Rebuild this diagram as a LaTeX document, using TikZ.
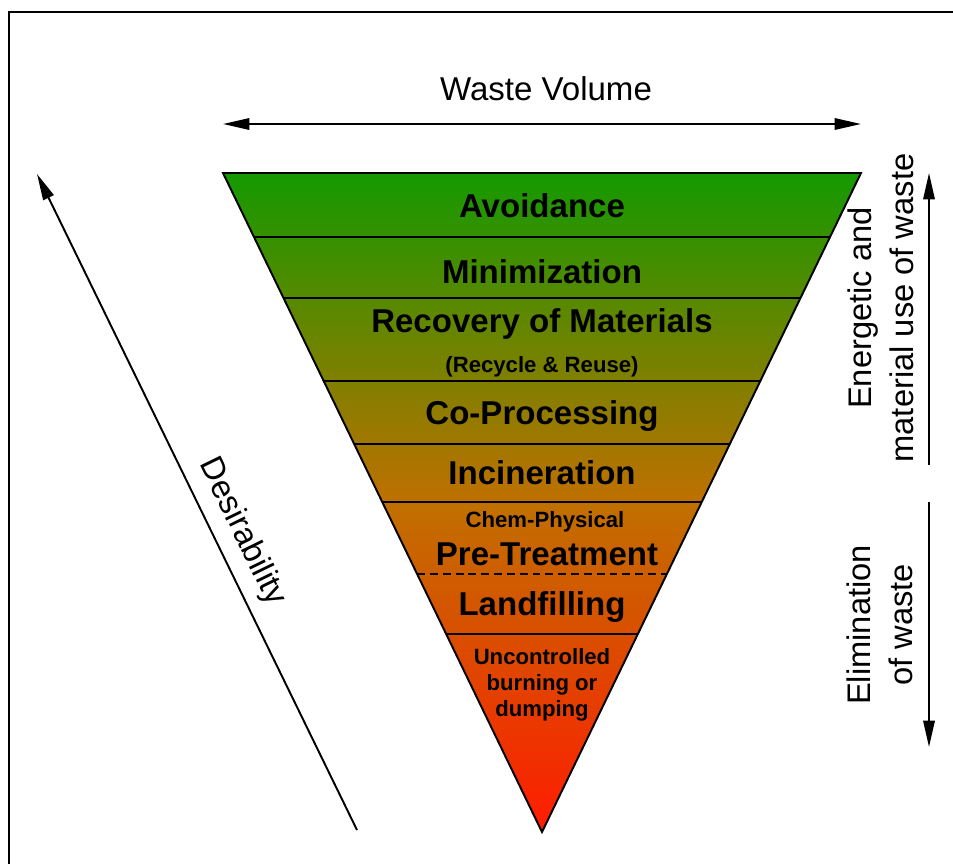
\documentclass[tikz,border=0pt]{standalone}
\usepackage{fontspec}
\setmainfont{Liberation Sans}
\usetikzlibrary{arrows.meta, calc, positioning}
\definecolor{topgreen}{RGB}{20,153,0}
\definecolor{midorange}{RGB}{192,112,0}
\definecolor{bottomred}{RGB}{255,28,0}
\tikzstyle{every picture} = [x=0.02cm, y=-0.02cm, line width=1.1pt]
\tikzstyle{level} = [anchor=base, inner sep=0pt, font=\fontsize{18.8}{22}\selectfont\bfseries]
\tikzstyle{small level} = [inner sep=0pt, align=center, font=\fontsize{12.6}{14.7}\selectfont\bfseries]
\tikzstyle{side label} = [inner sep=0pt, align=center, font=\fontsize{18.6}{23.8}\selectfont]
\tikzstyle{axis arrow} = [-{Triangle[length=15pt,width=6.5pt]}]

\begin{document}
\begin{tikzpicture}
            \useasboundingbox (0, 0) rectangle (953, 863);
            \draw (9, 12) rectangle (1000, 900);

            \coordinate (top left) at (223, 173);
            \coordinate (top right) at (861, 173);
            \coordinate (apex) at (542, 832);

            % funnel
            \shade[top color=topgreen, bottom color=bottomred, middle color=midorange]
                  (top left) -- (top right) -- (apex) -- cycle;
            \foreach \t in {0.0964, 0.1897, 0.3156, 0.4112, 0.4992, 0.6995}
                \draw ($(top left)!\t!(apex)$) -- ($(top right)!\t!(apex)$);
            \draw[dash pattern=on 4.5pt off 2.8pt] ($(top left)!0.6085!(apex)$) -- ($(top right)!0.6085!(apex)$);
            \draw[line join=miter] (top left) -- (top right) -- (apex) -- cycle;

            \node (avoidance) at (542, 217) [level] {Avoidance};
            \node (minimization) at (542, 283) [level] {Minimization};
            \node (recovery) at (542, 332) [level] {Recovery of Materials};
            \node (recycle) at (542, 372) [level, font=\fontsize{12.6}{13.3}\selectfont\bfseries] {(Recycle \& Reuse)};
            \node (coprocessing) at (542, 424) [level] {Co-Processing};
            \node (incineration) at (542, 484) [level] {Incineration};
            \node (chemphys) at (545, 527) [level, font=\fontsize{12.6}{13.3}\selectfont\bfseries] {Chem-Physical};
            \node (pretreatment) at (547, 565) [level] {Pre-Treatment};
            \node (landfilling) at (542, 615) [level] {Landfilling};
            \node (uncontrolled) at (542, 685) [small level] {Uncontrolled\\burning or\\dumping};

            % axes
            \coordinate (volume left) at (223, 124);
            \coordinate (volume right) at (861, 124);
            \draw[{Triangle[length=15pt,width=6.5pt]}-{Triangle[length=15pt,width=6.5pt]}] (volume left) -- (volume right);
            \node (volume) at (546, 100) [anchor=base, inner sep=0pt, font=\fontsize{18.8}{22}\selectfont] {Waste Volume};

            \coordinate (desire tail) at (357, 830);
            \coordinate (desire tip) at (37, 174);
            \draw[axis arrow] (desire tail) -- (desire tip);
            \node (desire) at (242, 532) [side label, rotate=-64] {Desirability};

            \coordinate (use low) at (929, 465);
            \coordinate (use high) at (929, 173);
            \draw[axis arrow] (use low) -- (use high);
            \node (use) at (881, 308) [side label, rotate=90] {Energetic and\\material use of waste};

            \coordinate (elim high) at (929, 502);
            \coordinate (elim low) at (929, 747);
            \draw[axis arrow] (elim high) -- (elim low);
            \node (elim) at (880, 625) [side label, rotate=90] {Elimination\\of waste};
\end{tikzpicture}
\end{document}
